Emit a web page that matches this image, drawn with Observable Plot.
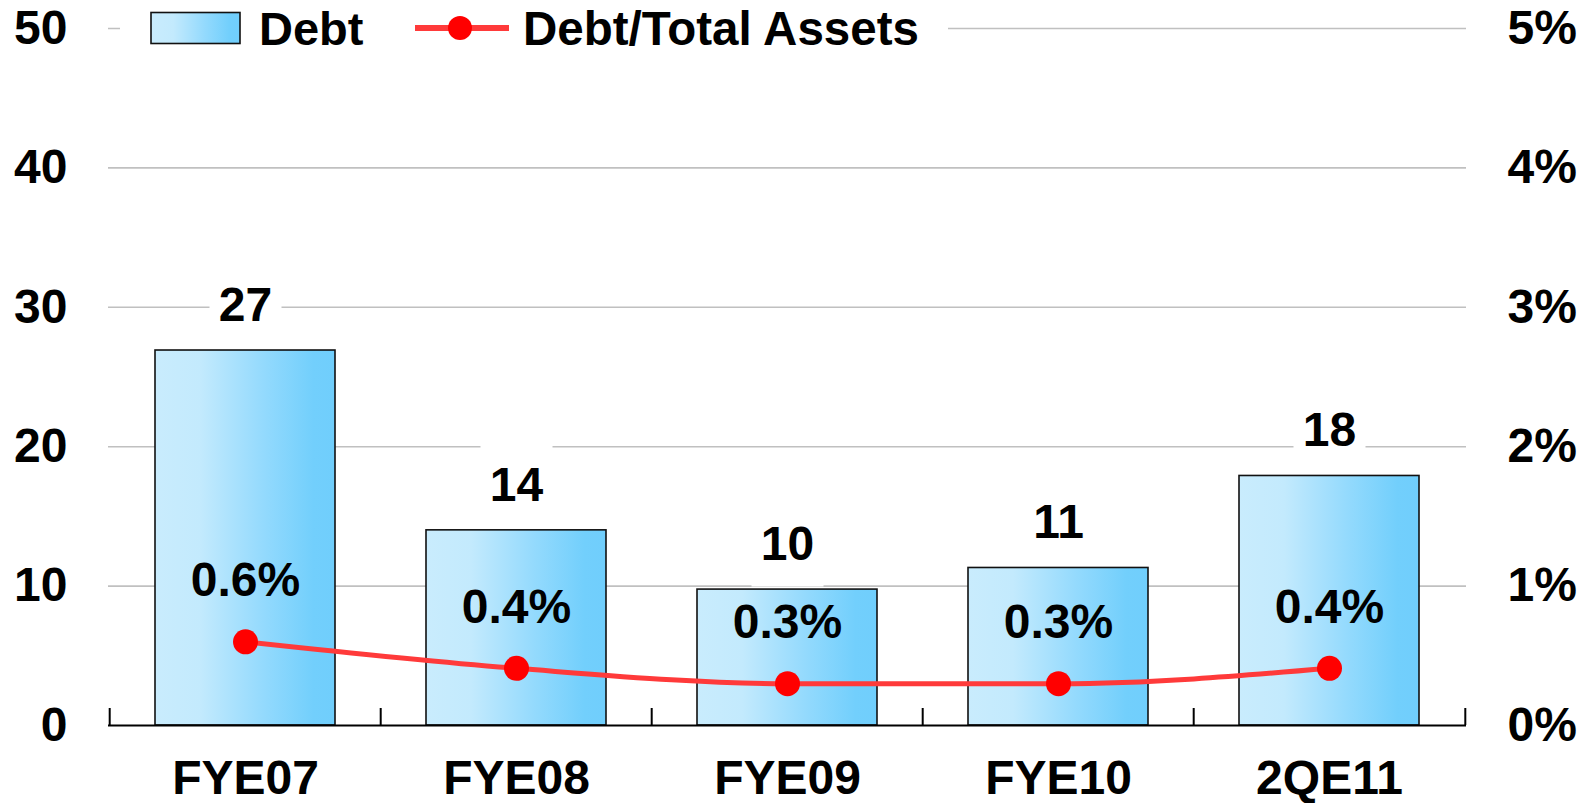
<!DOCTYPE html>
<html>
<head>
<meta charset="utf-8">
<script src="https://cdn.jsdelivr.net/npm/d3@7"></script>
<script src="https://cdn.jsdelivr.net/npm/@observablehq/plot@0.6"></script>
<style>
  html, body { margin: 0; padding: 0; background: #fff; }
  #wrap { position: relative; width: 1591px; height: 803px; font-family: "Liberation Sans", Arial, sans-serif; }
  #legend { position: absolute; left: 120px; top: 4px; overflow: visible; }
</style>
</head>
<body>
<div id="wrap"></div>
<script>
// ---- data ----
const categories = ["FYE07", "FYE08", "FYE09", "FYE10", "2QE11"];
const debt = [26.9, 14.0, 9.75, 11.3, 17.9];
const debtLabels = ["27", "14", "10", "11", "18"];
const ratio = [0.6, 0.41, 0.3, 0.3, 0.41];
const ratioLabels = ["0.6%", "0.4%", "0.3%", "0.3%", "0.4%"];
const leftTicks = [0, 10, 20, 30, 40, 50];
const rightTickLabels = ["0%", "1%", "2%", "3%", "4%", "5%"];
const gridTicks = [10, 20, 30, 40, 50];

const rows = categories.map((c, i) => ({
  cat: c, debt: debt[i], debtLabel: debtLabels[i], ratio: ratio[i], ratioLabel: ratioLabels[i]
}));

const W = 1591, H = 803;
const mL = 108, mR = 125, mT = 28, mB = 78;
const step = (W - mL - mR) / categories.length;
const pxPerUnit = (H - mT - mB) / 50;
const ratioToDebt = 10; // 1% on right axis == 10 on left axis
const font = "Liberation Sans, Arial, sans-serif";

const labelBox = {draw(ctx) { ctx.rect(-36, -42, 72, 84); }};

const chart = Plot.plot({
  width: W, height: H,
  marginLeft: mL, marginRight: mR, marginTop: mT, marginBottom: mB,
  style: {fontFamily: font, fontWeight: "bold", fontSize: "48px", color: "#000", background: "#fff"},
  x: {domain: categories, paddingInner: 0.335, paddingOuter: 0.1675, axis: null},
  y: {domain: [0, 50], axis: null},
  marks: [
    Plot.gridY(gridTicks, {stroke: "#c0c0c0", strokeOpacity: 1, strokeWidth: 1.6}),
    Plot.dot(rows, {x: "cat", y: "debt", dy: -45, symbol: labelBox, fill: "#fff", r: 10}),
    Plot.barY(rows, {x: "cat", y: "debt", fill: "url(#barGrad)", stroke: "#111", strokeWidth: 1.6}),
    Plot.ruleY([0], {stroke: "#000", strokeWidth: 2}),
    Plot.ruleX(categories, {x: d => d, dx: -step / 2, y1: 0, y2: 17 / pxPerUnit, stroke: "#000", strokeWidth: 2}),
    Plot.ruleX([categories[categories.length - 1]], {x: d => d, dx: step / 2, y1: 0, y2: 17 / pxPerUnit, stroke: "#000", strokeWidth: 2}),
    Plot.line(rows, {x: "cat", y: d => d.ratio * ratioToDebt, stroke: "#ff3a3a", strokeWidth: 5, curve: "monotone-x"}),
    Plot.dot(rows, {x: "cat", y: d => d.ratio * ratioToDebt, r: 12.5, fill: "#ff0000", stroke: "none"}),
    Plot.text(rows, {x: "cat", y: d => d.ratio * ratioToDebt, text: "ratioLabel", dy: -61, lineAnchor: "middle", fontSize: 48, fontWeight: "bold", fill: "#000"}),
    Plot.text(rows, {x: "cat", y: "debt", text: "debtLabel", dy: -45, lineAnchor: "middle", fontSize: 48, fontWeight: "bold", fill: "#000"}),
    Plot.axisY(leftTicks, {anchor: "left", tickSize: 0, tickPadding: 41, tickFormat: d => String(d), fontSize: 48, fontWeight: "bold", label: null}),
    Plot.axisY(leftTicks, {anchor: "right", tickSize: 0, tickPadding: 41, tickFormat: d => rightTickLabels[leftTicks.indexOf(d)], fontSize: 48, fontWeight: "bold", label: null}),
    Plot.axisX(categories, {tickSize: 0, tickPadding: 34, fontSize: 48, fontWeight: "bold", label: null})
  ]
});

// gradient definition for bars
const ns = "http://www.w3.org/2000/svg";
function addGradient(svg, id) {
  const defs = document.createElementNS(ns, "defs");
  const g = document.createElementNS(ns, "linearGradient");
  g.setAttribute("id", id);
  g.setAttribute("x1", "0"); g.setAttribute("x2", "1"); g.setAttribute("y1", "0"); g.setAttribute("y2", "0");
  [["0", "#c9ecfd"], ["0.25", "#c3eafd"], ["0.6", "#94dafd"], ["0.88", "#72cffc"], ["1", "#70cefc"]].forEach(([o, c]) => {
    const s = document.createElementNS(ns, "stop");
    s.setAttribute("offset", o); s.setAttribute("stop-color", c);
    g.appendChild(s);
  });
  defs.appendChild(g);
  svg.insertBefore(defs, svg.firstChild);
}
const svgRoot = chart.tagName.toLowerCase() === "svg" ? chart : chart.querySelector("svg");
addGradient(svgRoot, "barGrad");

const wrap = document.getElementById("wrap");
wrap.appendChild(chart);

// legend overlay
const legendItems = ["Debt", "Debt/Total Assets"];
const legend = document.createElementNS(ns, "svg");
legend.setAttribute("id", "legend");
legend.setAttribute("width", 828);
legend.setAttribute("height", 56);
legend.setAttribute("style", "background:#fff; font-family:" + font + "; font-weight:bold;");
legend.innerHTML = `
  <defs><linearGradient id="legGrad" x1="0" x2="1" y1="0" y2="0">
    <stop offset="0" stop-color="#c9ecfd"/><stop offset="0.25" stop-color="#c3eafd"/>
    <stop offset="0.6" stop-color="#94dafd"/><stop offset="0.88" stop-color="#72cffc"/><stop offset="1" stop-color="#70cefc"/>
  </linearGradient></defs>
  <rect x="31" y="8.5" width="89" height="31" fill="url(#legGrad)" stroke="#111" stroke-width="1.6"/>
  <text x="139" y="41" font-size="47">${legendItems[0]}</text>
  <line x1="295" x2="389" y1="24" y2="24" stroke="#ff3a3a" stroke-width="6"/>
  <circle cx="340" cy="24" r="12" fill="#ff0000"/>
  <text x="403" y="41" font-size="47.5">${legendItems[1]}</text>
`;
wrap.appendChild(legend);
</script>
</body>
</html>
